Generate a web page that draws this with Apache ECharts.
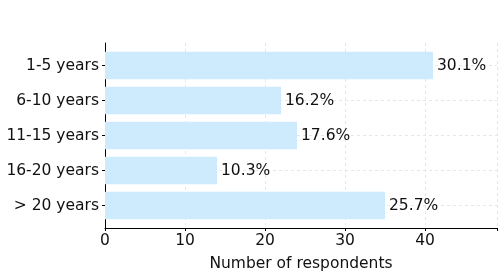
<!DOCTYPE html>
<html>
<head>
<meta charset="utf-8">
<script src="https://cdn.jsdelivr.net/npm/echarts@6/dist/echarts.min.js"></script>
<style>
  html, body { margin: 0; padding: 0; background: #fff; }
  #chart { width: 504px; height: 277px; }
</style>
</head>
<body>
<div id="chart"></div>
<script>
// data
const categories = ["1-5 years", "6-10 years", "11-15 years", "16-20 years", "> 20 years"];
const counts = [41, 22, 24, 14, 35];
const xTicks = [0, 10, 20, 30, 40];

const total = counts.reduce((a, b) => a + b, 0);
const font = "DejaVu Sans";
const fs = 15.5;

const chart = echarts.init(document.getElementById("chart"));

const option = {
  backgroundColor: "#fff",
  animation: false,
  grid: [
    // bars
    { left: 105, right: 7, top: 48, bottom: 54 },
    // frame (spines, x ticks)
    { left: 105, right: 7, top: 43, bottom: 49 },
  ],
  xAxis: [
    {
      gridIndex: 0,
      type: "value",
      min: 0,
      max: 49,
      show: false,
    },
    {
      gridIndex: 1,
      type: "value",
      min: 0,
      max: 49,
      interval: 10,
      axisLine: { show: true, lineStyle: { color: "#000", width: 1 } },
      axisTick: { show: true, length: 3, lineStyle: { color: "#000" } },
      axisLabel: {
        color: "#111",
        fontFamily: font,
        fontSize: fs,
        margin: 5,
        formatter: (v) => (xTicks.includes(v) ? String(v) : ""),
      },
      splitLine: { show: true, lineStyle: { color: "#e6e6e6", type: [3, 3] } },
      name: "Number of respondents",
      nameLocation: "middle",
      nameGap: 28,
      nameTextStyle: { color: "#111", fontFamily: font, fontSize: fs },
    },
  ],
  yAxis: [
    {
      gridIndex: 0,
      type: "category",
      data: categories,
      inverse: true,
      axisLine: { show: false },
      axisTick: { show: true, alignWithLabel: true, length: 3, lineStyle: { color: "#000" } },
      axisLabel: { color: "#111", fontFamily: font, fontSize: fs, margin: 6 },
      splitLine: { show: true, alignWithLabel: true, lineStyle: { color: "#e6e6e6", type: [3, 3] } },
    },
    {
      gridIndex: 1,
      type: "value",
      min: 0,
      max: 1,
      axisLine: { show: true, onZero: false, lineStyle: { color: "#000", width: 1 } },
      axisTick: { show: false },
      axisLabel: { show: false },
      splitLine: { show: false },
    },
  ],
  series: [
    {
      type: "bar",
      xAxisIndex: 0,
      yAxisIndex: 0,
      data: counts,
      barCategoryGap: "22%",
      itemStyle: { color: "#cdebfd" },
      label: {
        show: true,
        position: "right",
        distance: 4,
        color: "#111",
        fontFamily: font,
        fontSize: fs,
        formatter: (p) => (p.value / total * 100).toFixed(1) + "%",
      },
    },
  ],
};

chart.setOption(option);
</script>
</body>
</html>
